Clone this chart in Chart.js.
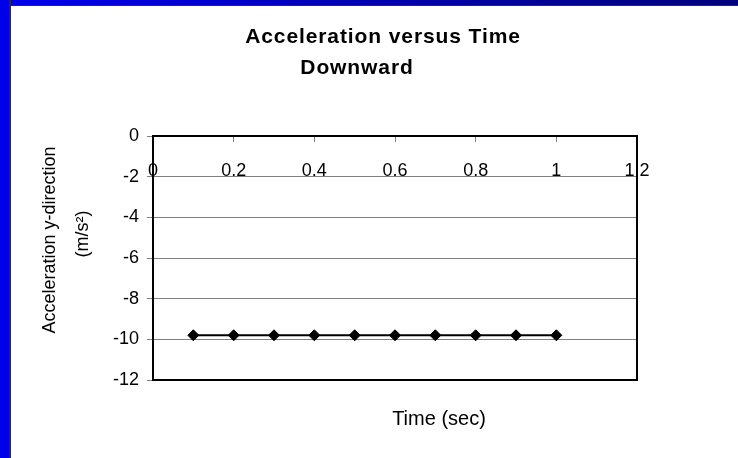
<!DOCTYPE html>
<html>
<head>
<meta charset="utf-8">
<script src="https://cdn.jsdelivr.net/npm/chart.js@4.4.1/dist/chart.umd.min.js"></script>
<style>
  html, body { margin: 0; padding: 0; width: 738px; height: 458px; overflow: hidden; background: #fff; }
  #plot { position: absolute; left: 0; top: 0; }
  .edge { position: absolute; z-index: 2; }
  #edgeTop { left: 0; top: 0; width: 738px; height: 5px; background: linear-gradient(to right, #0000e8, #00007c); border-bottom: 1px solid #2a2a3a; }
  #edgeLeft { left: 0; top: 0; width: 9px; height: 458px; background: #0000e8; border-right: 2px solid #2a2a3a; }
</style>
</head>
<body>
<canvas id="plot" width="738" height="458"></canvas>
<div class="edge" id="edgeTop"></div>
<div class="edge" id="edgeLeft"></div>
<script>
// Measurements: time in seconds, vertical acceleration in m/s^2
const times = [0.1, 0.2, 0.3, 0.4, 0.5, 0.6, 0.7, 0.8, 0.9, 1.0];
const accel = [-9.8, -9.8, -9.8, -9.8, -9.8, -9.8, -9.8, -9.8, -9.8, -9.8];

// Axis ranges and tick spacing
const xRange = [0, 1.2];
const xStep = 0.2;
const yRange = [-12, 0];
const yStep = 2;

// Text
const titleLines = ['Acceleration versus Time', 'Downward'];
const yTitleLines = ['Acceleration y-direction', '(m/s\u00B2)'];
const xTitle = 'Time (sec)';

const FONT = '"Liberation Sans", Arial, sans-serif';

// Draws the chart title and the axis captions
const captions = {
  id: 'captions',
  afterDraw(chart) {
    const ctx = chart.ctx;
    ctx.save();
    ctx.fillStyle = '#000';
    ctx.textAlign = 'center';
    ctx.textBaseline = 'alphabetic';

    ctx.font = 'bold 21px ' + FONT;
    ctx.letterSpacing = '0.9px';
    ctx.fillText(titleLines[0], 383, 43);
    ctx.fillText(titleLines[1], 357, 74);
    ctx.letterSpacing = '0px';

    ctx.font = '20px ' + FONT;
    ctx.fillText(xTitle, 439, 425);

    ctx.font = '18px ' + FONT;
    ctx.translate(55, 240);
    ctx.rotate(-Math.PI / 2);
    ctx.fillText(yTitleLines[0], 0, 0);
    ctx.fillText(yTitleLines[1], 6, 33);
    ctx.restore();
  }
};

// Black frame around the plotting area
const plotFrame = {
  id: 'plotFrame',
  afterDatasetsDraw(chart) {
    const {ctx, chartArea: a} = chart;
    ctx.save();
    ctx.strokeStyle = '#000';
    ctx.lineWidth = 2;
    ctx.strokeRect(a.left, a.top, a.right - a.left, a.bottom - a.top);
    ctx.restore();
  }
};

const points = times.map((t, i) => ({x: t, y: accel[i]}));

new Chart(document.getElementById('plot'), {
  type: 'scatter',
  data: {
    datasets: [{
      data: points,
      showLine: true,
      borderColor: '#000',
      borderWidth: 2,
      backgroundColor: '#000',
      pointStyle: 'rectRot',
      pointRadius: 5.5,
      pointBorderWidth: 1,
      pointBorderColor: '#000',
      pointBackgroundColor: '#000'
    }]
  },
  options: {
    responsive: false,
    animation: false,
    devicePixelRatio: 1,
    layout: { padding: { left: 0, top: 136, right: 101, bottom: 78 } },
    plugins: {
      legend: { display: false },
      tooltip: { enabled: false }
    },
    scales: {
      x: {
        type: 'linear',
        position: { y: 0 },
        min: xRange[0],
        max: xRange[1],
        ticks: {
          stepSize: xStep,
          autoSkip: false,
          maxRotation: 0,
          padding: 19,
          color: '#000',
          font: { family: FONT, size: 18 },
          callback: (v) => String(Number(v.toFixed(2)))
        },
        grid: { drawOnChartArea: false, tickLength: 5, color: '#808080', lineWidth: 1 },
        border: { color: '#000', width: 2 }
      },
      y: {
        min: yRange[0],
        max: yRange[1],
        ticks: {
          stepSize: yStep,
          padding: 8,
          color: '#000',
          font: { family: FONT, size: 18 }
        },
        grid: { color: '#808080', lineWidth: 1, tickLength: 6 },
        border: { color: '#000', width: 2 },
        afterFit(scale) { scale.width = 153; }
      }
    }
  },
  plugins: [captions, plotFrame]
});
</script>
</body>
</html>
